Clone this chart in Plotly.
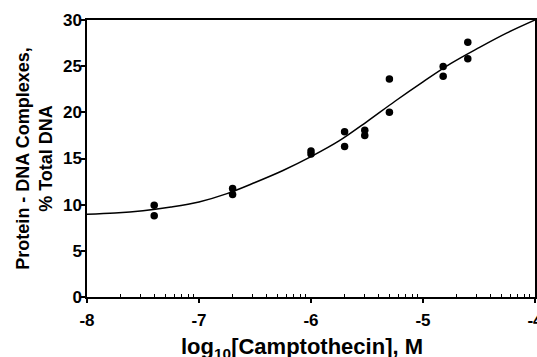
import math
import plotly.graph_objects as go

# Data points (log10 concentration, % total DNA)
pts_x = [-7.40, -7.40, -6.70, -6.70, -6.00, -6.00, -5.70, -5.70,
         -5.52, -5.52, -5.30, -5.30, -4.82, -4.82, -4.60, -4.60]
pts_y = [9.95, 8.8, 11.75, 11.1, 15.8, 15.5, 17.9, 16.3,
         18.05, 17.5, 23.6, 20.0, 24.97, 23.9, 27.6, 25.8]

# Fitted curve
fit_x = [-8.0, -7.75, -7.5, -7.25, -7.0, -6.75, -6.5, -6.25, -6.0,
         -5.75, -5.5, -5.25, -5.0, -4.75, -4.5, -4.25, -4.0]
fit_y = [8.97, 9.1, 9.35, 9.75, 10.3, 11.2, 12.4, 13.7, 15.2,
         16.9, 19.0, 21.2, 23.3, 25.3, 27.0, 28.6, 30.0]

x_ticks = [-8, -7, -6, -5, -4]
x_tick_labels = ["-8", "-7", "-6", "-5", "-4"]
y_ticks = [0, 5, 10, 15, 20, 25, 30]

minor_vals = [d + math.log10(k) for d in range(-8, -4) for k in range(2, 10)]

FONT = "Liberation Sans, Arial, Helvetica, sans-serif"

fig = go.Figure()
fig.add_trace(go.Scatter(x=fit_x, y=fit_y, mode="lines",
                         line=dict(color="black", width=1.5, shape="spline"),
                         showlegend=False, hoverinfo="skip"))
fig.add_trace(go.Scatter(x=pts_x, y=pts_y, mode="markers",
                         marker=dict(color="black", size=7.5),
                         showlegend=False))

fig.update_layout(
    width=537, height=357,
    margin=dict(l=87, r=2, t=20, b=60),
    paper_bgcolor="white", plot_bgcolor="white",
    font=dict(family=FONT, color="black", size=17, weight="bold"),
    xaxis=dict(
        range=[-8, -4], showgrid=False, zeroline=False,
        showline=True, linecolor="black", linewidth=1.5, mirror=True,
        tickmode="array", tickvals=x_ticks, ticktext=x_tick_labels,
        ticks="outside", ticklen=4, tickcolor="black", tickwidth=1.5,
        ticklabelstandoff=3, ticklabeloverflow="allow",
        tickfont=dict(size=17, family=FONT, weight="bold"),
        minor=dict(tickmode="array", tickvals=minor_vals, ticks="inside",
                   ticklen=3, tickcolor="black", tickwidth=1),
        automargin=False,
    ),
    yaxis=dict(
        range=[0, 30], showgrid=False, zeroline=False,
        showline=True, linecolor="black", linewidth=1.5, mirror=True,
        tickmode="array", tickvals=y_ticks,
        ticks="outside", ticklen=4, tickcolor="black", tickwidth=1.5,
        ticklabelstandoff=-4,
        tickfont=dict(size=17, family=FONT, weight="bold"),
        automargin=False,
    ),
    annotations=[
        dict(text="log<sub>10</sub>[Camptothecin], M", xref="paper", yref="paper",
             x=0.48, y=-0.185, xanchor="center", yanchor="middle", showarrow=False,
             font=dict(size=22, family=FONT, weight="bold")),
        dict(text="Protein - DNA Complexes,<br>% Total DNA", xref="paper", yref="paper",
             x=-0.118, y=0.5, xanchor="center", yanchor="middle", showarrow=False,
             textangle=-90, font=dict(size=18, family=FONT, weight="bold")),
    ],
)

fig.write_html("out.html", config={"displayModeBar": False},
               post_script="document.body.style.margin='0';")
